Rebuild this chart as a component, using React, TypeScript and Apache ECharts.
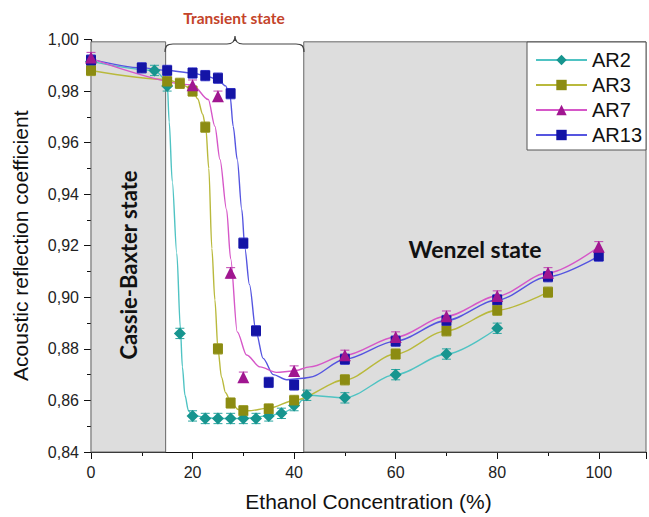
import React, { useEffect, useRef } from 'react';
import * as echarts from 'echarts';

// ---------- Data ----------
const X_TICKS_MAX = 109.3;
const Y_MIN = 0.84;
const Y_MAX = 1.0;
const CASSIE_END = 14.7; // end of Cassie-Baxter region (%)
const WENZEL_START = 41.9; // start of Wenzel region (%)
const REGION_TOP = 0.9991;

// AR2 measured points
const AR2_X = [0, 12.5, 15, 17.5, 20, 22.5, 25, 27.5, 30, 32.5, 35, 37.5, 40, 42.5, 50, 60, 70, 80];
const AR2_Y = [0.9915, 0.988, 0.982, 0.886, 0.854, 0.853, 0.853, 0.853, 0.853, 0.853, 0.854, 0.855, 0.858, 0.862, 0.861, 0.870, 0.878, 0.888];
const AR2_ERR = [0.002, 0.002, 0.002, 0.002, 0.002, 0.002, 0.002, 0.002, 0.002, 0.002, 0.002, 0.002, 0.002, 0.002, 0.002, 0.002, 0.002, 0.002];
// AR2 fitted curve
const AR2_FIT_X = [0, 12.5, 15, 15.4, 16.0, 16.9, 17.6, 18.0, 18.5, 19.2, 20, 25, 30, 35, 37.5, 40, 42.5, 50, 60, 70, 80];
const AR2_FIT_Y = [0.9915, 0.988, 0.984, 0.968, 0.945, 0.917, 0.888, 0.873, 0.862, 0.856, 0.854, 0.853, 0.853, 0.854, 0.855, 0.857, 0.862, 0.861, 0.870, 0.878, 0.888];

// AR3
const AR3_X = [0, 15, 17.5, 20, 22.5, 25, 27.5, 30, 35, 40, 50, 60, 70, 80, 90];
const AR3_Y = [0.988, 0.9837, 0.983, 0.980, 0.966, 0.880, 0.859, 0.856, 0.8567, 0.860, 0.868, 0.878, 0.887, 0.895, 0.902];
const AR3_ERR = [0.002, 0.002, 0.002, 0.002, 0.002, 0.002, 0.002, 0.002, 0.002, 0.002, 0.002, 0.002, 0.002, 0.002, 0.002];
const AR3_FIT_X = [0, 15, 17.5, 20, 21, 22, 22.6, 23.2, 23.8, 24.4, 25, 25.7, 26.5, 27.5, 29, 31, 35, 40, 50, 60, 70, 80, 90];
const AR3_FIT_Y = [0.988, 0.9845, 0.983, 0.9805, 0.977, 0.971, 0.966, 0.950, 0.919, 0.899, 0.880, 0.869, 0.863, 0.8595, 0.8565, 0.856, 0.857, 0.860, 0.868, 0.878, 0.887, 0.895, 0.902];

// AR7
const AR7_X = [0, 20, 25, 27.5, 30, 40, 50, 60, 70, 80, 90, 100];
const AR7_Y = [0.993, 0.9823, 0.978, 0.9095, 0.869, 0.8714, 0.8775, 0.8846, 0.8927, 0.9005, 0.9095, 0.9196];
const AR7_ERR = [0.002, 0.002, 0.002, 0.002, 0.002, 0.002, 0.002, 0.002, 0.002, 0.002, 0.002, 0.002];
const AR7_FIT_X = [0, 20, 23.1, 24.4, 25.4, 26.7, 27.5, 28.8, 30.65, 33.3, 36.5, 39.8, 43.1, 50, 60, 70, 80, 90, 100];
const AR7_FIT_Y = [0.9927, 0.9824, 0.9767, 0.9663, 0.9535, 0.934, 0.915, 0.8866, 0.8776, 0.873, 0.8709, 0.8714, 0.873, 0.8775, 0.8846, 0.8927, 0.9005, 0.9095, 0.9196];

// AR13
const AR13_X = [0, 10, 15, 20, 22.5, 25, 27.5, 30, 32.5, 35, 40, 50, 60, 70, 80, 90, 100];
const AR13_Y = [0.992, 0.989, 0.988, 0.987, 0.986, 0.985, 0.979, 0.921, 0.887, 0.867, 0.866, 0.876, 0.883, 0.891, 0.899, 0.908, 0.916];
const AR13_ERR = [0.002, 0.002, 0.002, 0.002, 0.002, 0.002, 0.002, 0.002, 0.002, 0.002, 0.002, 0.002, 0.002, 0.002, 0.002, 0.002, 0.002];
const AR13_FIT_X = [0, 10, 15, 20, 22.5, 25, 26.5, 27.4, 28.0, 28.8, 29.7, 30.3, 31.2, 32.5, 33.9, 35.9, 38.5, 41.8, 43.1, 50, 60, 70, 80, 90, 100];
const AR13_FIT_Y = [0.9924, 0.989, 0.988, 0.987, 0.986, 0.9845, 0.982, 0.978, 0.9663, 0.9535, 0.934, 0.919, 0.905, 0.8866, 0.8763, 0.870, 0.868, 0.8686, 0.869, 0.876, 0.883, 0.891, 0.899, 0.908, 0.916];

const LEGEND_NAMES = ['AR2', 'AR3', 'AR7', 'AR13'];

// ---------- Styles ----------
const SERIES_DEFS = [
  { name: 'AR2', x: AR2_X, y: AR2_Y, err: AR2_ERR, fx: AR2_FIT_X, fy: AR2_FIT_Y, symbol: 'diamond', size: 12, marker: '#17958f', line: '#4fc3c3', bar: '#2aa5a0' },
  { name: 'AR3', x: AR3_X, y: AR3_Y, err: AR3_ERR, fx: AR3_FIT_X, fy: AR3_FIT_Y, symbol: 'rect', size: 10, marker: '#8c8c12', line: '#b9b93c', bar: '#a0a030' },
  { name: 'AR13', x: AR13_X, y: AR13_Y, err: AR13_ERR, fx: AR13_FIT_X, fy: AR13_FIT_Y, symbol: 'rect', size: 10, marker: '#1414a6', line: '#5555e0', bar: '#3a3ad0' },
  { name: 'AR7', x: AR7_X, y: AR7_Y, err: AR7_ERR, fx: AR7_FIT_X, fy: AR7_FIT_Y, symbol: 'triangle', size: 12, marker: '#a01690', line: '#d657c8', bar: '#c040b0' },
];

const BRACE_D = 'M0,16 C0,10 2,8 8,8 L62,8 C67,8 70,5 70,0 C70,5 73,8 78,8 L131,8 C137,8 139,10 139,16';
let braceRegistered = false;
function registerBrace() {
  if (braceRegistered) return;
  try {
    echarts.graphic.registerShape('brace', echarts.graphic.extendPath(BRACE_D, {}));
  } catch (e) {
    // ignore
  }
  braceRegistered = true;
}

const FONT = 'Liberation Sans, Arial, sans-serif';
const BOLD_FONT = 'Lato, Open Sans, sans-serif';

export default function App() {
  const ref = useRef<HTMLDivElement>(null);
  useEffect(() => {
    if (!ref.current) return;
    registerBrace();
    const chart = echarts.init(ref.current, null, { renderer: 'svg' });

    const lineSeries = SERIES_DEFS.map((d) => ({
      name: d.name,
      type: 'line',
      data: d.fx.map((x, i) => [x, d.fy[i]]),
      showSymbol: false,
      symbol: d.symbol,
      symbolSize: d.size,
      smooth: 0.3,
      smoothMonotone: 'x',
      lineStyle: { color: d.line, width: 1.4 },
      itemStyle: { color: d.marker },
      z: 3,
      silent: true,
    }));

    const errSeries = SERIES_DEFS.map((d) => ({
      name: d.name,
      type: 'custom',
      data: d.x.map((x, i) => [x, d.y[i], d.err[i]]),
      encode: { x: 0, y: 1 },
      z: 4,
      silent: true,
      renderItem: (params: any, api: any) => {
        const x = api.value(0);
        const y = api.value(1);
        const e = api.value(2);
        const top = api.coord([x, y + e]);
        const bot = api.coord([x, y - e]);
        const hw = 4.5;
        const st = { stroke: d.bar, lineWidth: 1 };
        return {
          type: 'group',
          children: [
            { type: 'line', shape: { x1: top[0], y1: top[1], x2: bot[0], y2: bot[1] }, style: st },
            { type: 'line', shape: { x1: top[0] - hw, y1: top[1], x2: top[0] + hw, y2: top[1] }, style: st },
            { type: 'line', shape: { x1: bot[0] - hw, y1: bot[1], x2: bot[0] + hw, y2: bot[1] }, style: st },
          ],
        };
      },
    }));

    const scatterSeries = SERIES_DEFS.map((d, k) => ({
      name: d.name,
      type: 'scatter',
      data: d.x.map((x, i) => [x, d.y[i]]),
      symbol: d.symbol,
      symbolSize: d.size,
      itemStyle: { color: d.marker, opacity: 1 },
      z: 5 + k,
      silent: true,
    }));

    const regionSeries = {
      name: 'regions',
      type: 'line',
      data: [],
      z: 1,
      silent: true,
      markArea: {
        silent: true,
        itemStyle: { color: '#dddddd', borderColor: '#666', borderWidth: 1 },
        data: [
          [{ xAxis: 0, yAxis: Y_MIN }, { xAxis: CASSIE_END, yAxis: REGION_TOP }],
          [{ xAxis: WENZEL_START, yAxis: Y_MIN }, { xAxis: X_TICKS_MAX, yAxis: REGION_TOP }],
        ],
      },
    };

    const option = {
      animation: false,
      backgroundColor: '#fff',
      textStyle: { fontFamily: FONT },
      grid: { left: 91, right: 3, top: 39.5, bottom: 63, containLabel: false },
      legend: {
        data: LEGEND_NAMES,
        orient: 'vertical',
        left: 527,
        top: 42,
        itemWidth: 51,
        itemHeight: 13,
        itemGap: 5,
        padding: [8, 4, 5, 8],
        borderColor: '#555',
        borderWidth: 1,
        backgroundColor: '#fff',
        textStyle: { fontSize: 20, fontFamily: FONT, color: '#111' },
        z: 20,
      },
      xAxis: {
        type: 'value',
        min: 0,
        max: X_TICKS_MAX,
        interval: 20,
        name: 'Ethanol Concentration (%)',
        nameLocation: 'middle',
        nameGap: 39,
        nameTextStyle: { fontSize: 21, fontFamily: FONT, color: '#111' },
        axisLine: { show: true, lineStyle: { color: '#111', width: 1.2 } },
        axisTick: { show: true, length: 7, lineStyle: { color: '#111' } },
        minorTick: { show: true, splitNumber: 2, length: 4, lineStyle: { color: '#111' } },
        splitLine: { show: false },
        axisLabel: { fontSize: 16, color: '#222', margin: 12, showMaxLabel: false, fontFamily: FONT },
      },
      yAxis: {
        type: 'value',
        min: Y_MIN,
        max: Y_MAX,
        interval: 0.02,
        name: 'Acoustic reflection coefficient',
        nameLocation: 'middle',
        nameGap: 60,
        nameTextStyle: { fontSize: 21, fontFamily: FONT, color: '#111' },
        axisLine: { show: true, lineStyle: { color: '#111', width: 1.2 } },
        axisTick: { show: true, length: 7, lineStyle: { color: '#111' } },
        minorTick: { show: true, splitNumber: 2, length: 4, lineStyle: { color: '#111' } },
        splitLine: { show: false },
        axisLabel: {
          fontSize: 16,
          color: '#222',
          margin: 12,
          fontFamily: FONT,
          formatter: (v: number) => v.toFixed(2).replace('.', ','),
        },
      },
      graphic: [
        {
          type: 'brace',
          x: 165,
          y: 36,
          z: 100,
          style: { fill: 'none', stroke: '#444', lineWidth: 1.2 },
        },
        {
          type: 'text',
          x: 234,
          y: 18,
          z: 100,
          style: {
            text: 'Transient state',
            fill: '#c4442a',
            font: `bold 15.5px ${BOLD_FONT}`,
            textAlign: 'center',
            textVerticalAlign: 'middle',
          },
        },
        {
          type: 'text',
          x: 475,
          y: 249,
          z: 100,
          style: {
            text: 'Wenzel state',
            fill: '#111',
            font: `bold 23px ${BOLD_FONT}`,
            textAlign: 'center',
            textVerticalAlign: 'middle',
          },
        },
        {
          type: 'text',
          x: 128,
          y: 265,
          rotation: Math.PI / 2,
          z: 100,
          style: {
            text: 'Cassie-Baxter state',
            fill: '#111',
            font: `bold 22px ${BOLD_FONT}`,
            textAlign: 'center',
            textVerticalAlign: 'middle',
          },
        },
      ],
      series: [regionSeries, ...lineSeries, ...errSeries, ...scatterSeries],
    };

    chart.setOption(option as any);
    return () => {
      chart.dispose();
    };
  }, []);

  return (
    <div
      ref={ref}
      style={{ position: 'fixed', left: 0, top: 0, width: 649, height: 517, background: '#fff' }}
    />
  );
}
